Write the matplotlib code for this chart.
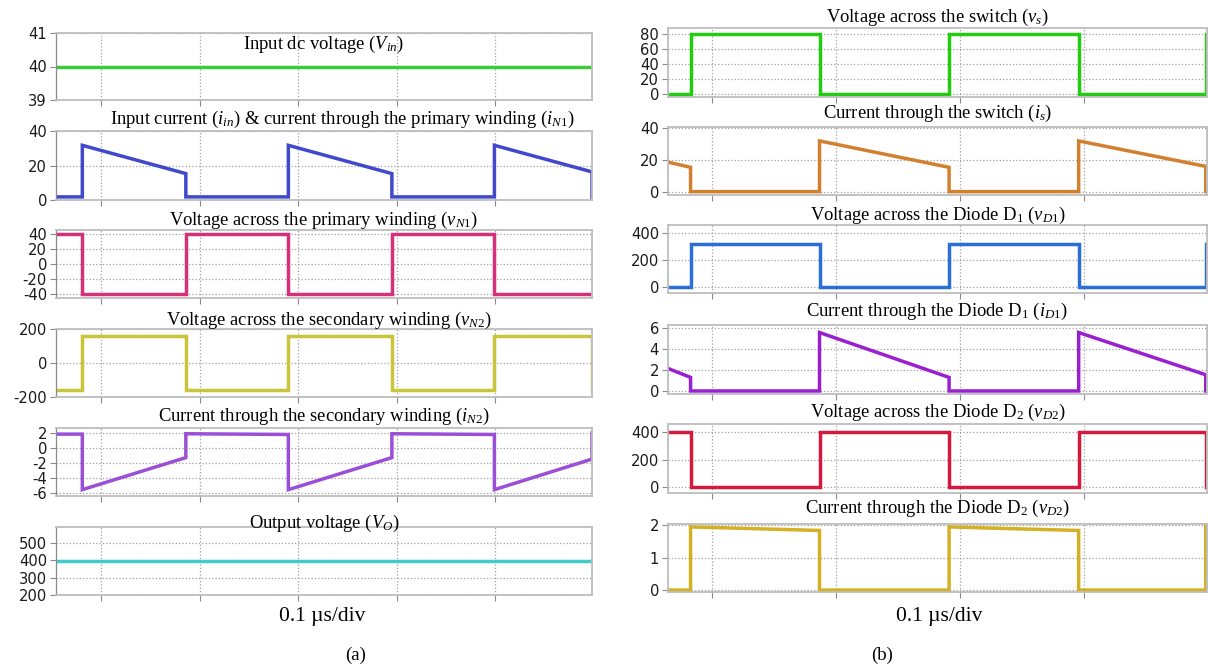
import numpy as np
import matplotlib.pyplot as plt

plt.rcParams['font.family'] = 'DejaVu Sans'
plt.rcParams['axes.unicode_minus'] = False
plt.rcParams['mathtext.fontset'] = 'custom'
plt.rcParams['mathtext.rm'] = 'Liberation Serif'
plt.rcParams['mathtext.it'] = 'Liberation Serif:italic'

# Datos (tiempo en µs, 0.1 µs/div)
# Columna (a)
t_a = [0.054, 0.081, 0.081, 0.186, 0.186, 0.290, 0.290, 0.395, 0.395, 0.499, 0.499, 0.598, 0.598]
vin = [40] * 13
iin = [1.8, 1.8, 31.7, 15.3, 1.8, 1.8, 31.7, 15.3, 1.8, 1.8, 31.7, 16.3, 0.0]
vn1 = [40, 40, -40, -40, 40, 40, -40, -40, 40, 40, -40, -40, -40]
vn2 = [-160, -160, 160, 160, -160, -160, 160, 160, -160, -160, 160, 160, -160]
in2 = [1.85, 1.85, -5.6, -1.3, 1.9, 1.8, -5.6, -1.3, 1.9, 1.8, -5.6, -1.5, 2.0]
vo = [398] * 13

# Columna (b)
t_b = [0.065, 0.083, 0.083, 0.187, 0.187, 0.2915, 0.2915, 0.396, 0.396, 0.4985, 0.4985]
vs = [0, 0, 80, 80, 0, 0, 80, 80, 0, 0, 80]
i_s = [18.4, 15.2, 0, 0, 31.7, 15.2, 0, 0, 31.7, 15.8, 0]
vd1 = [0, 0, 320, 320, 0, 0, 320, 320, 0, 0, 320]
id1 = [2.15, 1.3, 0, 0, 5.6, 1.3, 0, 0, 5.6, 1.55, 0]
vd2 = [400, 400, 0, 0, 400, 400, 0, 0, 400, 400, 0]
id2 = [0, 0, 1.95, 1.84, 0, 0, 1.95, 1.84, 0, 0, 2.0]

W, H = 1208, 666
fig = plt.figure(figsize=(W / 100, H / 100), dpi=100)


def rect(l, t, r, b):
    return [l / W, 1 - b / H, (r - l) / W, (b - t) / H]


def panel(box, t, y, color, ylim, yticks, xlim, title, dy, left_col, dx=0):
    ax = fig.add_axes(rect(*box))
    ax.plot(t, y, color=color, lw=2.5, solid_joinstyle='miter')
    ax.set_xticks([0.1, 0.2, 0.3, 0.4, 0.5, 0.6])
    ax.set_xticklabels([])
    ax.set_yticks(yticks)
    ax.set_xlim(*xlim)
    ax.set_ylim(*ylim)
    ax.grid(True, ls=':', color='#a0a0a0', lw=0.9)
    ax.set_axisbelow(True)
    for s in ax.spines.values():
        s.set_color('#bdbdbd')
        s.set_linewidth(1.3)
    if left_col:
        ax.spines['left'].set_color('#8a8a8a')
        ax.spines['left'].set_linewidth(0.9)
    ax.tick_params(axis='both', direction='out', length=4, width=0.8,
                   color='#8a8a8a', labelsize=10.6, labelcolor='#1a1a1a', pad=2.5)
    ax.annotate(title, xy=(0.5, 1), xycoords='axes fraction', xytext=(dx, dy),
                textcoords='offset pixels', ha='center', va='center',
                fontsize=13.4, family='Liberation Serif')
    return ax


xa = (0.0543, 0.598)
xb = (0.0648, 0.4995)

# Columna izquierda (a)
panel((56, 33, 592, 100), t_a, vin, '#3ec83c', (39, 41), [39, 40, 41], xa,
      r'Input dc voltage ($V_{in}$)', -11, True)
panel((56, 131, 592, 200), t_a, iin, '#4048cc', (0, 40), [0, 20, 40], xa,
      r'Input current ($i_{in}$) & current through the primary winding ($i_{\mathit{N1}}$)', 12, True, dx=18)
panel((56, 230, 592, 298), t_a, vn1, '#d6307a', (-45, 45), [-40, -20, 0, 20, 40], xa,
      r'Voltage across the primary winding ($v_{\mathit{N1}}$)', 10, True)
panel((56, 329, 592, 397), t_a, vn2, '#c9c43a', (-200, 200), [-200, 0, 200], xa,
      r'Voltage across the secondary winding ($v_{\mathit{N2}}$)', 9, True, dx=5)
panel((56, 428, 592, 496), t_a, in2, '#9b4fd6', (-6.45, 2.67), [-6, -4, -2, 0, 2], xa,
      r'Current through the secondary winding ($i_{\mathit{N2}}$)', 12, True)
panel((56, 527, 592, 595), t_a, vo, '#40cccc', (200, 592), [200, 300, 400, 500], xa,
      r'Output voltage ($V_O$)', 4, True)

# Columna derecha (b)
panel((668, 28, 1207, 97), t_b, vs, '#22cc11', (-3.5, 88), [0, 20, 40, 60, 80], xb,
      r'Voltage across the switch ($v_s$)', 11, False)
panel((668, 127, 1207, 195), t_b, i_s, '#d27f2e', (-2.1, 40.4), [0, 20, 40], xb,
      r'Current through the switch ($i_s$)', 14, False)
panel((668, 225, 1207, 293), t_b, vd1, '#2b6fd6', (-42, 456), [0, 200, 400], xb,
      r'Voltage across the Diode D$_1$ ($v_{\mathit{D1}}$)', 10, False)
panel((668, 325, 1207, 394), t_b, id1, '#9a1fd0', (-0.29, 6.32), [0, 2, 4, 6], xb,
      r'Current through the Diode D$_1$ ($i_{\mathit{D1}}$)', 14, False)
panel((668, 424, 1207, 493), t_b, vd2, '#d41a3c', (-44, 461), [0, 200, 400], xb,
      r'Voltage across the Diode D$_2$ ($v_{\mathit{D2}}$)', 12, False)
panel((668, 524, 1207, 592), t_b, id2, '#d4b024', (-0.06, 2.04), [0, 1, 2], xb,
      r'Current through the Diode D$_2$ ($v_{\mathit{D2}}$)', 16, False)

fig.text(322 / W, 1 - 616 / H, '0.1 µs/div', ha='center', va='center',
         fontsize=15.5, family='Liberation Serif')
fig.text(939 / W, 1 - 616 / H, '0.1 µs/div', ha='center', va='center',
         fontsize=15.5, family='Liberation Serif')
fig.text(356 / W, 1 - 655 / H, '(a)', ha='center', va='center',
         fontsize=13.5, family='Liberation Serif')
fig.text(882 / W, 1 - 655 / H, '(b)', ha='center', va='center',
         fontsize=13.5, family='Liberation Serif')

fig.savefig('out.png', dpi=100)
